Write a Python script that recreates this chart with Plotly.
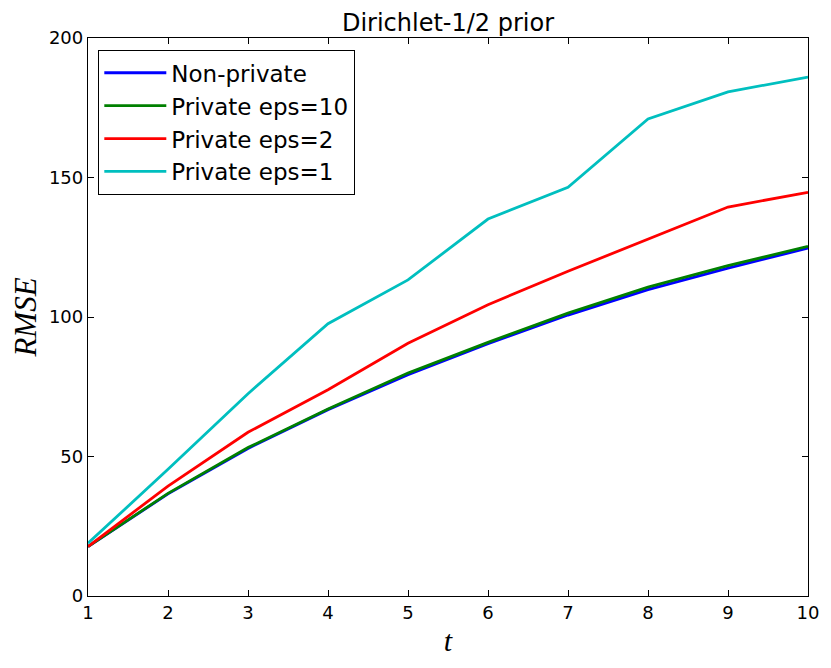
import plotly.graph_objects as go

t = [1, 2, 3, 4, 5, 6, 7, 8, 9, 10]
non_private = [17.7, 36.6, 52.9, 66.8, 79.3, 90.4, 100.7, 109.8, 117.5, 124.7]
eps10 = [17.7, 36.8, 53.2, 67.0, 79.9, 90.9, 101.4, 110.7, 118.4, 125.3]
eps2 = [17.7, 39.4, 58.7, 73.9, 90.6, 104.4, 116.4, 128.0, 139.4, 144.7]
eps1 = [18.9, 45.4, 72.5, 97.6, 113.3, 135.1, 146.5, 171.0, 180.7, 186.0]

series = [
    ("Non-private", non_private, "#0000ff"),
    ("Private eps=10", eps10, "#008000"),
    ("Private eps=2", eps2, "#ff0000"),
    ("Private eps=1", eps1, "#00bfbf"),
]

fig = go.Figure()
for name, vals, color in series:
    fig.add_trace(go.Scatter(x=t, y=vals, mode="lines", name=name,
                             line=dict(color=color, width=2.8)))

axis_common = dict(
    showline=True, linecolor="black", linewidth=1.3, mirror="ticks",
    ticks="inside", ticklen=6, tickwidth=1, tickcolor="black",
    showgrid=False, zeroline=False, automargin=False,
    tickfont=dict(family="DejaVu Sans", size=18, color="black"),
)

fig.update_layout(
    width=815, height=652,
    margin=dict(l=80, r=15, t=30, b=64),
    paper_bgcolor="white", plot_bgcolor="white",
    title=dict(text="Dirichlet-1/2 prior", x=0.5, xref="paper", xanchor="center",
               y=1, yref="paper", yanchor="bottom", pad=dict(b=7),
               font=dict(family="DejaVu Sans", size=24, color="black")),
    xaxis=dict(range=[1, 10], dtick=1, tick0=1,
               title=dict(text="<i>t</i>", standoff=8,
                          font=dict(family="Liberation Serif", size=30, color="black")),
               **axis_common),
    yaxis=dict(range=[0, 200], dtick=50, tick0=0,
               title=dict(text="<i>RMSE</i>", standoff=18,
                          font=dict(family="Liberation Serif", size=31, color="black")),
               **axis_common),
    legend=dict(x=0.0139, y=0.9785, xanchor="left", yanchor="top",
                bgcolor="white", bordercolor="black", borderwidth=1.3,
                font=dict(family="DejaVu Sans", size=23, color="black"),
                itemwidth=62, tracegroupgap=0),
    showlegend=True,
)

fig.write_html("out.html")
